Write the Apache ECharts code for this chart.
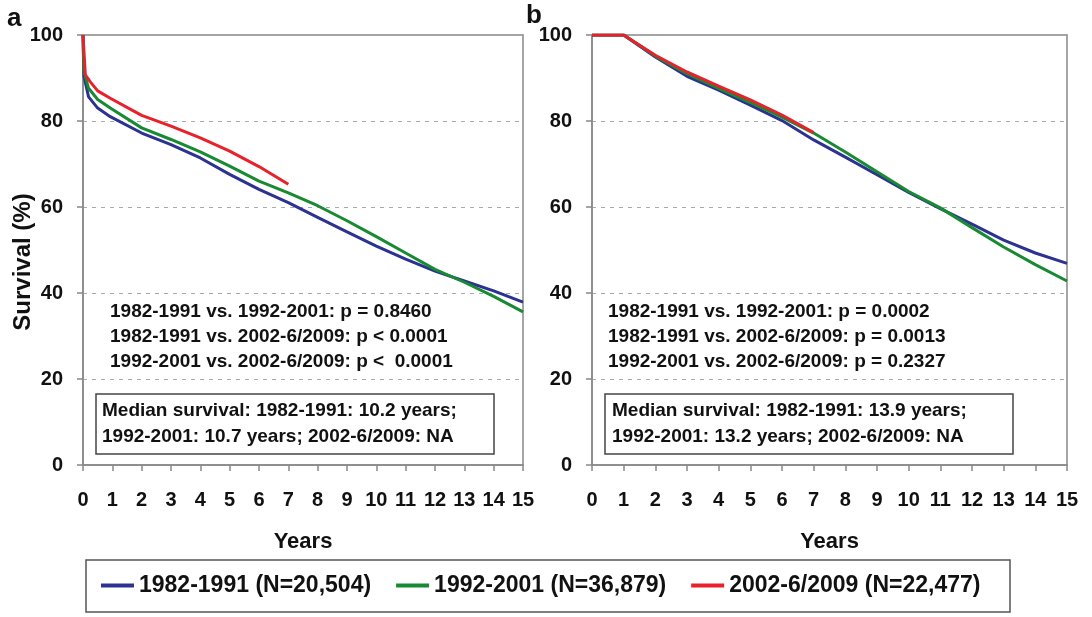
<!DOCTYPE html>
<html>
<head>
<meta charset="utf-8">
<script src="https://cdn.jsdelivr.net/npm/echarts@6/dist/echarts.min.js"></script>
<style>
  html, body { margin: 0; padding: 0; background: #fff; }
  #main { width: 1092px; height: 617px; }
</style>
</head>
<body>
<div id="main"></div>
<script>
// survival curves, [years, survival %]
// panel a
const aBlue = [[0,100],[0.03,90.5],[0.19,85.6],[0.5,83.0],[0.93,81.0],[2,77.2],[3,74.5],[4,71.4],[5,67.6],[6,64.1],[7,61.0],[8,57.6],[9,54.2],[10,50.9],[11,47.9],[12,45.1],[13,42.8],[14,40.5],[15,37.9]];
const aGreen = [[0,100],[0.03,91.5],[0.19,87.6],[0.5,85.0],[0.93,83.0],[2,78.4],[3,75.7],[4,72.8],[5,69.5],[6,66.0],[7,63.3],[8,60.3],[9,56.8],[10,53.1],[11,49.3],[12,45.5],[13,42.5],[14,39.2],[15,35.6]];
const aRed = [[0,100],[0.08,90.7],[0.25,89.1],[0.5,87.0],[0.93,85.3],[2,81.3],[3,78.8],[4,76.1],[5,73.0],[6,69.4],[7,65.3]];
// panel b
const bBlue = [[0,100],[1,100],[2,94.9],[3,90.4],[4,87.2],[5,83.7],[6,80.1],[7,75.6],[8,71.6],[9,67.5],[10,63.4],[11,59.6],[12,56.0],[13,52.3],[14,49.3],[15,46.9]];
const bGreen = [[0,100],[1,100],[2,95.1],[3,91.0],[4,87.6],[5,84.3],[6,80.9],[7,77.2],[8,72.8],[9,68.2],[10,63.6],[11,59.8],[12,55.2],[13,50.7],[14,46.6],[15,42.8]];
const bRed = [[0,100],[1,100],[2,95.3],[3,91.4],[4,88.1],[5,84.9],[6,81.4],[7,77.3]];

const names = ['1982-1991 (N=20,504)', '1992-2001 (N=36,879)', '2002-6/2009 (N=22,477)'];
const colors = ['#2c3291', '#178a32', '#e8212b'];

const pTextA = ['1982-1991 vs. 1992-2001: p = 0.8460', '1982-1991 vs. 2002-6/2009: p < 0.0001', '1992-2001 vs. 2002-6/2009: p <  0.0001'];
const medianA = ['Median survival: 1982-1991: 10.2 years;', '1992-2001: 10.7 years; 2002-6/2009: NA'];
const pTextB = ['1982-1991 vs. 1992-2001: p = 0.0002', '1982-1991 vs. 2002-6/2009: p = 0.0013', '1992-2001 vs. 2002-6/2009: p = 0.2327'];
const medianB = ['Median survival: 1982-1991: 13.9 years;', '1992-2001: 13.2 years; 2002-6/2009: NA'];

const FONT = '"Liberation Sans", Arial, sans-serif';
const chart = echarts.init(document.getElementById('main'), null, { renderer: 'canvas' });

function xAx(grid) {
  return {
    type: 'value', gridIndex: grid, min: 0, max: 15, interval: 1,
    name: 'Years', nameLocation: 'middle', nameGap: 66,
    nameTextStyle: { fontFamily: FONT, fontWeight: 'bold', fontSize: 22, color: '#111' },
    axisLine: { lineStyle: { color: '#888', width: 1.5 } },
    axisTick: { show: true, length: 6, lineStyle: { color: '#888', width: 1.5 } },
    axisLabel: { margin: 25, fontFamily: FONT, fontWeight: 'bold', fontSize: 20, color: '#111' },
    splitLine: { show: false }
  };
}
function yAx(grid) {
  return {
    type: 'value', gridIndex: grid, min: 0, max: 100, interval: 20,
    axisLine: { show: true, lineStyle: { color: '#888', width: 1.5 } },
    axisTick: { show: true, length: 6, lineStyle: { color: '#888', width: 1.5 } },
    axisLabel: { margin: 20, fontFamily: FONT, fontWeight: 'bold', fontSize: 20, color: '#111' },
    splitLine: { show: true, showMinLine: false, showMaxLine: false, lineStyle: { color: '#aaa', type: [4, 5], width: 1.2 } }
  };
}
function line(name, data, color, idx, z) {
  return {
    name: name, type: 'line', data: data, xAxisIndex: idx, yAxisIndex: idx,
    showSymbol: false, symbol: 'none', z: z,
    lineStyle: { color: color, width: 3 }, itemStyle: { color: color }
  };
}
function txt(x, y, s, size) {
  return {
    type: 'text', x: x, y: y,
    style: { text: s, font: 'bold ' + size + 'px ' + FONT, fill: '#111', align: 'left', verticalAlign: 'middle' }
  };
}

const graphics = [];
pTextA.forEach((s, i) => graphics.push(txt(110, 312 + i * 25, s, 19)));
pTextB.forEach((s, i) => graphics.push(txt(608, 312 + i * 25, s, 19)));
graphics.push({ type: 'rect', shape: { x: 96, y: 394, width: 398, height: 60 }, style: { fill: 'none', stroke: '#444', lineWidth: 1.5 } });
graphics.push({ type: 'rect', shape: { x: 605, y: 394, width: 408, height: 60 }, style: { fill: 'none', stroke: '#444', lineWidth: 1.5 } });
medianA.forEach((s, i) => graphics.push(txt(102, 411 + i * 26, s, 19)));
medianB.forEach((s, i) => graphics.push(txt(612, 411 + i * 26, s, 19)));
graphics.push(txt(7, 19, 'a', 26));
graphics.push(txt(526, 16, 'b', 26));
graphics.push({
  type: 'text', x: 23, y: 262, rotation: Math.PI / 2,
  style: { text: 'Survival (%)', font: 'bold 24px ' + FONT, fill: '#111', align: 'center', verticalAlign: 'middle' }
});
graphics.push({ type: 'rect', shape: { x: 86, y: 560, width: 924, height: 52 }, style: { fill: 'none', stroke: '#555', lineWidth: 1.5 } });

chart.setOption({
  animation: false,
  backgroundColor: '#fff',
  grid: [
    { left: 83, right: 569, top: 35, bottom: 152, show: true, borderColor: '#888', borderWidth: 1.5 },
    { left: 592, right: 25, top: 35, bottom: 152, show: true, borderColor: '#888', borderWidth: 1.5 }
  ],
  xAxis: [xAx(0), xAx(1)],
  yAxis: [yAx(0), yAx(1)],
  legend: {
    data: names, left: 96, top: 569, icon: 'rect', itemWidth: 33, itemHeight: 4, itemGap: 25,
    textStyle: { fontFamily: FONT, fontWeight: 'bold', fontSize: 23, color: '#111' }
  },
  graphic: graphics,
  series: [
    line(names[0], aBlue, colors[0], 0, 2),
    line(names[1], aGreen, colors[1], 0, 3),
    line(names[2], aRed, colors[2], 0, 4),
    line(names[0], bBlue, colors[0], 1, 2),
    line(names[1], bGreen, colors[1], 1, 3),
    line(names[2], bRed, colors[2], 1, 4)
  ]
});
</script>
</body>
</html>
